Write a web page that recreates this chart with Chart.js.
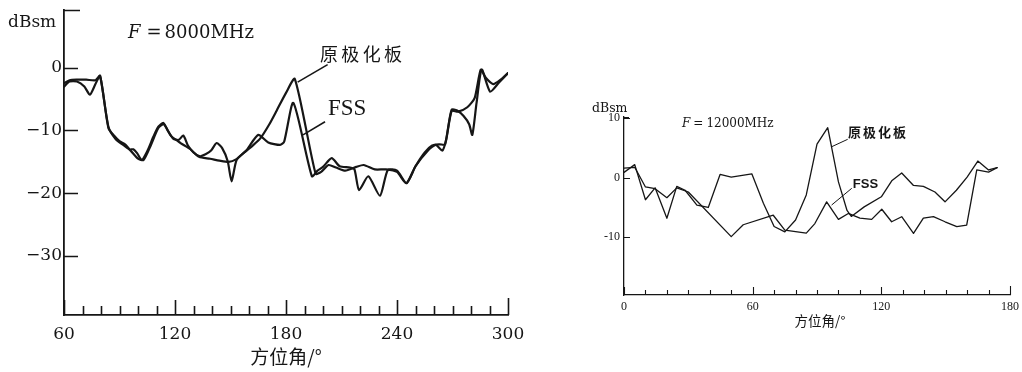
<!DOCTYPE html>
<html><head><meta charset="utf-8">
<script src="https://cdn.jsdelivr.net/npm/chart.js@4.4.1/dist/chart.umd.min.js"></script>
<style>
html,body{margin:0;padding:0;background:#fff;width:1022px;height:372px;overflow:hidden}
#c1{position:absolute;left:0;top:0}
#c2{position:absolute;left:580px;top:90px}
</style></head><body>
<canvas id="c1" width="545" height="372"></canvas>
<canvas id="c2" width="442" height="260"></canvas>
<script>
// ---------- Left chart: F = 8000 MHz ----------
const orig8Ang = [60,63,67,72,77,79.5,84,88,92,96,100,103,107,111,114,118,123,128,133,139,144,149,153,157,162,166,171,175,180,184.8,196,199,203,207,212,218,222,228,234,240,245,250,255,259,263,266,269.5,273,278,282,285.3,288,292,296,300];
const orig8Val = [-2.5,-2.0,-1.9,-1.9,-2.0,-1.3,-9.4,-11.4,-12.3,-13.2,-14.5,-14.7,-12.3,-9.6,-9.0,-10.9,-12.0,-12.9,-14.2,-14.5,-14.8,-15.0,-14.6,-13.6,-12.4,-11.3,-9.0,-6.8,-4.0,-1.8,-16.9,-16.6,-15.5,-15.9,-16.4,-15.8,-15.5,-16.2,-16.2,-16.6,-18.4,-15.7,-13.5,-12.4,-12.2,-12.2,-6.9,-7.0,-6.3,-4.8,-0.3,-1.6,-2.6,-1.9,-0.85];
const fss8Ang = [60,63,67,71,74,77,79.5,84,87,90,93,95.5,97.5,99.5,102,105,108.3,111,113.7,116,119,122,124.5,127,130,133.5,136.5,139.5,142.5,145.5,148.5,150.6,153.3,158.8,165,170.4,176.8,179,184,194,197,200,204.7,209,214.6,217,219.5,224.5,230.8,235,240,245.2,250,257,261,264.5,266.5,269.5,272.5,276,279,280.7,283,285.8,290.3,295,300];
const fss8Val = [-3.0,-2.2,-2.2,-3.0,-4.3,-2.6,-1.3,-9.6,-10.8,-11.7,-12.2,-13.0,-13.0,-13.6,-14.7,-13.3,-11.0,-9.4,-8.8,-10.0,-11.3,-11.5,-10.8,-12.4,-13.5,-14.1,-13.8,-13.2,-12.0,-12.8,-14.9,-18.1,-14.7,-13.1,-10.7,-11.9,-12.3,-11.8,-5.6,-17.3,-16.4,-15.8,-14.4,-15.7,-15.9,-16.2,-19.5,-17.3,-20.4,-16.3,-16.4,-18.4,-15.7,-13.1,-12.3,-13.2,-11.5,-6.7,-6.8,-7.7,-9.0,-10.7,-5.6,-0.3,-3.8,-2.4,-0.85];
const left_xTicks = [60,70,80,90,100,110,120,130,140,150,160,170,180,190,200,210,220,230,240,250,260,270,280,290,300];
const left_xLabeled = [60,120,180,240,300];
const left_yTicks = [-30,-20,-10,0];

// ---------- Right chart: F = 12000 MHz ----------
const orig12Ang = [0,5,10,14.5,20,24.6,28.5,34,39.3,44.8,50,59.6,65,70,75,80,85,90,95,100,104,106,112,120,125,129.5,135,139.6,145,149.7,155,160,165,170,174];
const orig12Val = [0.9,2.2,-3.7,-1.7,-6.8,-1.45,-2.1,-4.6,-5.0,0.55,0.1,0.65,-4.3,-8.2,-9.1,-7.1,-2.9,5.65,8.4,-0.7,-5.5,-6.5,-4.9,-3.2,-0.45,0.8,-1.3,-1.45,-2.4,-4.05,-2.1,0.1,2.8,1.3,1.7];
const fss12Ang = [0,5,10,14.5,20,24.6,30,50,55.6,69.6,75,85,89,94.5,100,104.6,110,115.5,120.2,124.8,129.5,135,139.6,144.3,149.7,155.2,159.8,164.5,170,174];
const fss12Val = [1.6,1.75,-1.55,-1.85,-3.35,-1.7,-2.4,-9.9,-7.9,-6.3,-8.8,-9.3,-7.7,-4.05,-7.0,-6.0,-6.8,-7.0,-5.3,-7.4,-6.55,-9.35,-6.8,-6.55,-7.4,-8.2,-7.95,1.3,0.95,1.7];
const right_xTicks = [0,10,20,30,40,50,60,70,80,90,100,110,120,130,140,150,160,170,180];
const right_xLabeled = [0,60,120,180];
const right_yTicks = [-10,0,10];

const seriesNames = ['原极化板','FSS'];
const INK = '#161616';

const pts = (a, v) => a.map((x, i) => ({x, y: v[i]}));

const inwardTicks = {
  id: 'inwardTicks',
  afterDraw(chart) {
    const p = chart.options.plugins.inwardTicks;
    if (!p) return;
    const {ctx, chartArea: a, scales: {x, y}} = chart;
    ctx.save();
    ctx.strokeStyle = INK; ctx.lineWidth = p.lw; ctx.lineCap = 'butt';
    ctx.beginPath();
    x.ticks.forEach(t => {
      const px = Math.round(x.getPixelForValue(t.value)) + 0.5;
      const L = t.value === x.max ? p.xEnd : (p.major.includes(t.value) ? p.xMajor : p.xMinor);
      ctx.moveTo(px, a.bottom); ctx.lineTo(px, a.bottom - L);
    });
    y.ticks.forEach(t => {
      const py = Math.round(y.getPixelForValue(t.value)) + 0.5;
      ctx.moveTo(a.left, py); ctx.lineTo(a.left + p.yLen, py);
    });
    ctx.moveTo(a.left, a.top + 0.5); ctx.lineTo(a.left + p.cap, a.top + 0.5);
    ctx.stroke();
    ctx.restore();
  }
};

const notes = {
  id: 'notes',
  afterDraw(chart) {
    const items = chart.options.plugins.notes && chart.options.plugins.notes.items;
    if (!items) return;
    const {ctx, chartArea: a, scales: {x, y}} = chart;
    const pos = it => it.data
      ? [x.getPixelForValue(it.data[0]), y.getPixelForValue(it.data[1])]
      : [(it.from === 'center' ? (a.left + a.right) / 2 : a.left) + it.area[0],
         (it.fromY === 'bottom' ? a.bottom : a.top) + it.area[1]];
    ctx.save();
    ctx.fillStyle = INK; ctx.strokeStyle = INK;
    items.forEach(it => {
      if (it.type === 'line') {
        const p1 = [x.getPixelForValue(it.p1[0]), y.getPixelForValue(it.p1[1])];
        const p2 = [x.getPixelForValue(it.p2[0]), y.getPixelForValue(it.p2[1])];
        ctx.lineWidth = it.lw || 1;
        ctx.beginPath(); ctx.moveTo(p1[0], p1[1]); ctx.lineTo(p2[0], p2[1]); ctx.stroke();
        return;
      }
      const [px, py] = pos(it);
      ctx.textBaseline = it.baseline || 'alphabetic';
      if (it.type === 'rich') {
        let cx = px;
        ctx.textAlign = 'left';
        it.parts.forEach(pt => {
          cx += pt.gap || 0;
          ctx.font = pt.font;
          ctx.fillText(pt.t, cx, py);
          cx += ctx.measureText(pt.t).width;
        });
      } else if (it.step) {
        ctx.font = it.font; ctx.textAlign = 'left';
        [...it.text].forEach((ch, i) => ctx.fillText(ch, px + i * it.step, py));
      } else {
        ctx.font = it.font; ctx.textAlign = it.align || 'left';
        ctx.fillText(it.text, px, py);
      }
    });
    ctx.restore();
  }
};

function makeChart(id, cfg) {
  return new Chart(document.getElementById(id), {
    type: 'line',
    data: {
      datasets: [
        {label: seriesNames[0], data: pts(cfg.oA, cfg.oV)},
        {label: seriesNames[1], data: pts(cfg.fA, cfg.fV)}
      ].map(d => Object.assign(d, {
        borderColor: INK, borderWidth: cfg.lineW, pointRadius: 0, fill: false,
        tension: cfg.tension, borderJoinStyle: 'round', borderCapStyle: 'round'
      }))
    },
    options: {
      responsive: false, animation: false, events: [],
      layout: {padding: cfg.pad},
      plugins: {
        legend: {display: false}, tooltip: {enabled: false},
        inwardTicks: cfg.ticksStyle,
        notes: {items: cfg.notes}
      },
      scales: {
        x: {
          type: 'linear', min: cfg.xMin, max: cfg.xMax,
          afterBuildTicks: s => { s.ticks = cfg.xTicks.map(v => ({value: v})); },
          afterFit: s => { s.height = cfg.xH; s.paddingLeft = 0; s.paddingRight = 0; },
          grid: {display: false, drawTicks: false, tickLength: 0},
          border: {display: true, color: INK, width: cfg.axisW},
          ticks: {autoSkip: false, maxRotation: 0, padding: cfg.xPad, color: INK, font: cfg.tickFont,
                  callback: v => cfg.xLabeled.includes(v) ? String(v) : ''}
        },
        y: {
          type: 'linear', min: cfg.yMin, max: cfg.yMax,
          afterBuildTicks: s => { s.ticks = cfg.yTicks.map(v => ({value: v})); },
          afterFit: s => { s.width = cfg.yW; s.paddingTop = 0; s.paddingBottom = 0; },
          grid: {display: false, drawTicks: false, tickLength: 0},
          border: {display: true, color: INK, width: cfg.axisW},
          ticks: {padding: cfg.yPad, color: INK, font: cfg.tickFont,
                  callback: v => v < 0 ? cfg.minus + Math.abs(v) : String(v)}
        }
      }
    },
    plugins: [inwardTicks, notes]
  });
}

makeChart('c1', {
  oA: orig8Ang, oV: orig8Val, fA: fss8Ang, fV: fss8Val,
  tension: 0.22, lineW: 2.2, axisW: 1.8,
  xMin: 60, xMax: 300, yMin: -39.4, yMax: 9.2,
  xTicks: left_xTicks, xLabeled: left_xLabeled, yTicks: left_yTicks,
  pad: {left: 0, right: 37, top: 10, bottom: 0}, xH: 57, yW: 64,
  xPad: 9, yPad: 2, minus: '\u2212',
  tickFont: {family: '"DejaVu Serif"', size: 17},
  ticksStyle: {lw: 1.6, xMinor: 9, xMajor: 15, xEnd: 17, major: [60,120,180,240,300], yLen: 14, cap: 16},
  notes: [
    {area: [-56, 17], text: 'dBsm', font: '17px "DejaVu Serif"'},
    {type: 'rich', area: [64, 28], parts: [
      {t: 'F', font: 'italic 18px "DejaVu Serif"'},
      {t: '=', font: '18px "DejaVu Serif"', gap: 6},
      {t: '8000MHz', font: '18px "DejaVu Serif"', gap: 3}
    ]},
    {from: 'center', fromY: 'bottom', area: [0, 42], baseline: 'middle', align: 'center',
     text: '方位角/°', font: '19px "Noto Sans CJK SC"'},
    {data: [198.4, 2.1], baseline: 'middle', text: seriesNames[0], step: 21.3, font: '18px "Noto Sans CJK SC"'},
    {type: 'line', p1: [202.5, 0.5], p2: [186.3, -2.3], lw: 1.6},
    {data: [202.7, -7.5], text: seriesNames[1], font: '23px "Liberation Serif"'},
    {type: 'line', p1: [201.1, -8.6], p2: [189.2, -10.7], lw: 1.6}
  ]
});

makeChart('c2', {
  oA: orig12Ang, oV: orig12Val, fA: fss12Ang, fV: fss12Val,
  tension: 0, lineW: 1.3, axisW: 1.3,
  xMin: 0, xMax: 180, yMin: -19.7, yMax: 10.2,
  xTicks: right_xTicks, xLabeled: right_xLabeled, yTicks: right_yTicks,
  pad: {left: 0, right: 12, top: 27, bottom: 0}, xH: 55, yW: 44,
  xPad: 5, yPad: 4, minus: '-',
  tickFont: {family: '"Liberation Serif"', size: 12},
  ticksStyle: {lw: 1.1, xMinor: 5, xMajor: 8, xEnd: 9, major: [0,60,120,180], yLen: 6, cap: 5},
  notes: [
    {area: [-32, -5], text: 'dBsm', font: '12.5px "DejaVu Serif"'},
    {type: 'rich', area: [58, 10], parts: [
      {t: 'F', font: 'italic 12px "DejaVu Serif"'},
      {t: '=', font: '12px "DejaVu Serif"', gap: 3},
      {t: '12000MHz', font: '12px "DejaVu Serif"', gap: 3}
    ]},
    {from: 'center', fromY: 'bottom', area: [3, 26], baseline: 'middle', align: 'center',
     text: '方位角/°', font: '13.5px "Noto Sans CJK SC"'},
    {data: [104.4, 7.6], baseline: 'middle', text: seriesNames[0], step: 15, font: 'bold 13px "Noto Sans CJK SC"'},
    {type: 'line', p1: [104.3, 6.45], p2: [96.8, 5.2], lw: 1},
    {data: [106.7, -1.73], text: seriesNames[1], font: 'bold 13px "Liberation Sans"'},
    {type: 'line', p1: [106.2, -1.78], p2: [96.8, -4.59], lw: 1}
  ]
});
</script>
</body></html>
